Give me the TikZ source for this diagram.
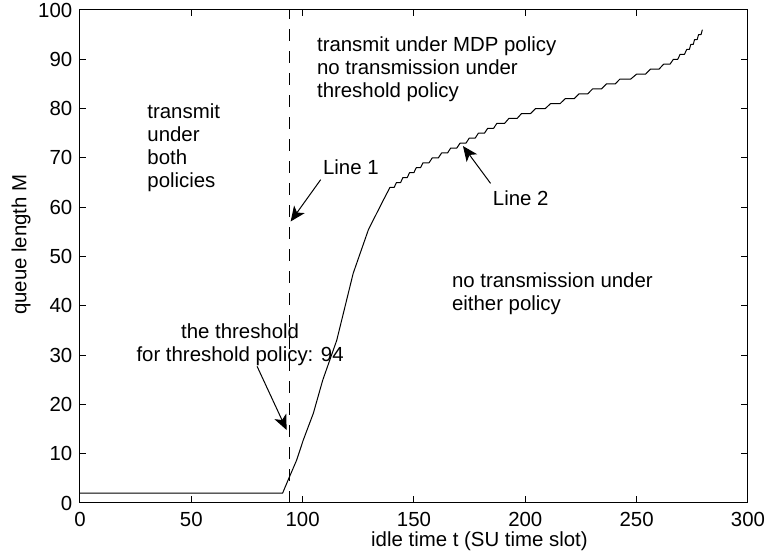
\documentclass[tikz,border=0pt]{standalone}
\usepackage{fontspec}
\setmainfont{Liberation Sans}
\usetikzlibrary{arrows.meta}

\begin{document}
\begin{tikzpicture}[
    x=1.11333pt, y=2.465pt,
    font=\fontsize{10.2}{11.5}\selectfont,
    >={Stealth[length=7.5pt,width=6.5pt,inset=2pt]},
    % Styles
    axis_line/.style={line width=0.5pt},
    tick_label/.style={inner sep=0pt},
    region_text/.style={inner sep=0pt, align=left, anchor=north west},
    line_label/.style={inner sep=1pt, anchor=west},
    pointer/.style={->, line width=0.5pt},
    threshold_line/.style={line width=0.5pt, dash pattern=on 6pt off 5pt},
    queue_curve/.style={line width=0.5pt, line join=round}
]

\useasboundingbox (-40pt,-28.5pt) rectangle (344pt,251.5pt);

% Axes box with ticks on all four sides
\draw[axis_line] (0,0) rectangle (300,100);
\foreach \t in {0,50,...,300} {
    \draw[axis_line] (\t,0) -- ++(0pt,3.25pt);
    \draw[axis_line] (\t,100) -- ++(0pt,-3.25pt);
    \node[tick_label, anchor=north] (xt\t) at ([yshift=-4.5pt]\t,0) {\t};
}
\foreach \m in {0,10,...,100} {
    \draw[axis_line] (0,\m) -- ++(3.25pt,0pt);
    \draw[axis_line] (300,\m) -- ++(-3.25pt,0pt);
    \node[tick_label, anchor=east] (yt\m) at ([xshift=-3.7pt]0,\m) {\m};
}

% Axis labels
\node[anchor=north west, inner sep=0pt] (xlab) at ([yshift=-14pt]130.6,0) {idle time t (SU time slot)};
\node[rotate=90, inner sep=0pt] (ylab) at ([xshift=-29.5pt]0,52.4) {queue length M};

% Threshold line (Line 1)
\draw[threshold_line] (94,0) -- (94,100);

% Queue length curve (Line 2)
\draw[queue_curve] (0,2) -- (91,2) -- (93.5,4.7) -- (97.3,8.7) -- (100.3,12.8)
    -- (104.8,18.2) -- (109,24.9) -- (115.3,33) -- (122.7,46.6) -- (129.5,55.4)
    -- (135.5,60.8) -- (139.2,64)
    foreach \k/\t [remember=\t as \tp (initially 139.2)] in {65/142.1, 66/145,
        67/148, 68/151, 69/154, 70/158.2, 71/162.4, 72/166.5, 73/170.7, 74/174.8,
        75/178.9, 76/183.1, 77/187.2, 78/192.6, 79/198.3, 80/204.6, 81/211.3,
        82/217.9, 83/224.1, 84/230.2, 85/236.4, 86/242.5, 87/250, 88/256.2,
        89/262.1, 90/266.5, 91/269.5, 92/272.5, 93/274.3, 94/276, 95/277.8, 96/279.5}
    { -- ({\t-0.35*(\t-\tp)},{\k-1}) -- (\t,\k) };

% Region texts
\node[region_text] (both) at (30.1,81.1) {transmit\\under\\both\\policies};
\node[region_text] (mdp) at (106.3,94.7) {transmit under MDP policy\\no transmission under\\threshold policy};
\node[region_text] (neither) at (166.9,46.8) {no transmission under\\either policy};
\node[region_text, align=center, anchor=north] (thr) at (71.9,36.4) {the threshold\\for threshold policy: 94};

% Line labels and arrows
\node[line_label] (line1) at (108.1,68.2) {Line 1};
\node[line_label] (line2) at (184.4,61.8) {Line 2};
\coordinate (l1tip) at (94.6,57.1);
\coordinate (l2tip) at (172,72.4);
\coordinate (thtip) at (92.8,14.8);
\draw[pointer] ([yshift=-1.5pt]line1.south west) -- (l1tip);
\draw[pointer] ([yshift=2.5pt]line2.north west) -- (l2tip);
\draw[pointer] ([xshift=8.5pt]thr.south) -- (thtip);

\end{tikzpicture}
\end{document}
